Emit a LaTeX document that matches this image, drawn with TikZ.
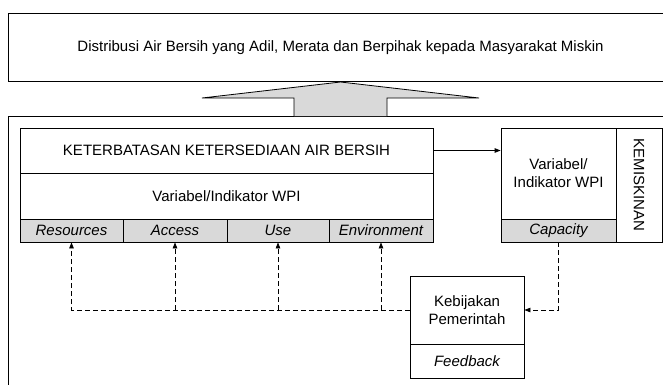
\documentclass[tikz,border=0pt]{standalone}
\usepackage{fontspec}
\setmainfont{Liberation Sans}
\usetikzlibrary{arrows.meta}
\definecolor{cellgray}{RGB}{217,217,217}
\tikzset{
  box/.style={draw=black, line width=0.8pt, inner sep=2pt, align=center, font=\fontsize{15}{18}\selectfont},
  graycell/.style={box, fill=cellgray, font=\fontsize{15}{18}\selectfont\itshape},
  fb/.style={draw=black, line width=0.8pt, dash pattern=on 5pt off 3pt, -{Triangle[length=6pt,width=4.5pt]}},
  fbline/.style={draw=black, line width=0.8pt, dash pattern=on 5pt off 3pt},
  solidarrow/.style={draw=black, line width=0.8pt, -{Triangle[length=6pt,width=4.5pt]}}
}
\begin{document}
\begin{tikzpicture}[x=1pt, y=-1pt]
\useasboundingbox (0,0) rectangle (663,384);
% top box
\node[box, minimum width=665pt, minimum height=68pt] (goal) at (340.5,47.5)
  {Distribusi Air Bersih yang Adil, Merata dan Berpihak kepada Masyarakat Miskin};
% outer frame
\node[draw=black, line width=1pt, minimum width=670pt, minimum height=280pt, anchor=north west, inner sep=0pt] (outer) at (8,116) {};
% block arrow
\filldraw[fill=cellgray, draw=black, line width=0.8pt]
  (294,116) -- (294,98) -- (202,98) -- (340.5,82) -- (479,98) -- (387,98) -- (387,116);
% left composite box
\node[box, minimum width=413pt, minimum height=45pt] (title) at (226.5,150.5)
  {KETERBATASAN KETERSEDIAAN AIR BERSIH};
\node[box, minimum width=413pt, minimum height=46pt] (wpi) at (226.5,196)
  {Variabel/Indikator WPI};
\node[graycell, minimum width=103pt, minimum height=23pt] (res) at (71.5,230.5) {Resources};
\node[graycell, minimum width=104pt, minimum height=23pt] (acc) at (175,230.5) {Access};
\node[graycell, minimum width=102pt, minimum height=23pt] (use) at (278,230.5) {Use};
\node[graycell, minimum width=104pt, minimum height=23pt] (env) at (381,230.5) {Environment};
% right composite box
\node[box, minimum width=115pt, minimum height=91pt] (rwpi) at (558.5,173.5)
  {Variabel/\\Indikator WPI};
\node[graycell, minimum width=115pt, minimum height=23pt] (cap) at (558.5,230.5) {Capacity};
\node[box, minimum width=46pt, minimum height=114pt] (kem) at (639,185) {};
\node[font=\fontsize{15}{18}\selectfont, rotate=-90] (kemtext) at (kem.center) {KEMISKINAN};
% feedback box
\node[box, minimum width=114pt, minimum height=68pt] (keb) at (467,310)
  {Kebijakan\\Pemerintah};
\node[box, font=\fontsize{15}{18}\selectfont\itshape, minimum width=114pt, minimum height=34pt] (feed) at (467,361) {Feedback};
% connectors
\draw[solidarrow] (title.east) -- (rwpi.west |- title.east);
\draw[fb] (cap.south) |- (keb.east);
\draw[fb] (keb.west) -| (res.south);
\draw[fb] (acc.south |- keb.west) -- (acc.south);
\draw[fb] (use.south |- keb.west) -- (use.south);
\draw[fb] (env.south |- keb.west) -- (env.south);
\end{tikzpicture}
\end{document}
